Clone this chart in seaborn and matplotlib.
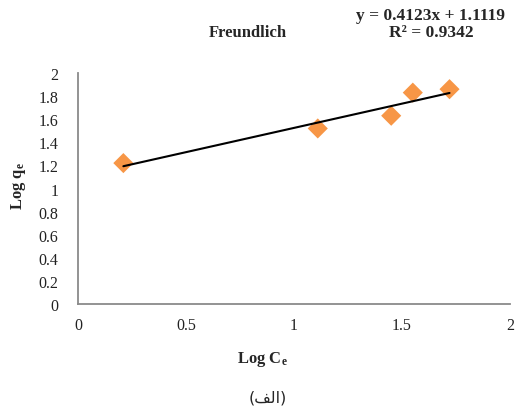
import matplotlib
matplotlib.use('Agg')
import matplotlib.pyplot as plt
import seaborn as sns
import pandas as pd

# Freundlich isotherm data
log_ce = [0.21, 1.11, 1.45, 1.55, 1.72]
log_qe = [1.22, 1.52, 1.63, 1.83, 1.86]
x_ticks = [0, 0.5, 1, 1.5, 2]
y_ticks = [0, 0.2, 0.4, 0.6, 0.8, 1, 1.2, 1.4, 1.6, 1.8, 2]
x_tick_labels = ['0', '0.5', '1', '1.5', '2']
y_tick_labels = ['0', '0.2', '0.4', '0.6', '0.8', '1', '1.2', '1.4', '1.6', '1.8', '2']

df = pd.DataFrame({'log_ce': log_ce, 'log_qe': log_qe})

sns.set_style('white')
plt.rcParams['font.family'] = ['Liberation Serif', 'DejaVu Sans']
plt.rcParams['mathtext.fontset'] = 'custom'
plt.rcParams['mathtext.rm'] = 'Liberation Serif'
plt.rcParams['mathtext.bf'] = 'Liberation Serif:bold'
plt.rcParams['mathtext.it'] = 'Liberation Serif:italic'

fig = plt.figure(figsize=(5.15, 4.14), dpi=100)
ax = fig.add_axes([78 / 515, 1 - 305 / 414, 432 / 515, 231 / 414])

# trendline (linear fit) then markers on top
sns.regplot(x='log_ce', y='log_qe', data=df, ax=ax, scatter=False, ci=None,
            line_kws={'color': 'black', 'linewidth': 1.5})
sns.scatterplot(x='log_ce', y='log_qe', data=df, ax=ax, marker='D', s=105,
                color='#F79646', edgecolor='none', zorder=1)

ax.set_xlim(0, 2)
ax.set_ylim(0, 2)
ax.set_xticks(x_ticks)
ax.set_xticklabels(x_tick_labels)
ax.set_yticks(y_ticks)
ax.set_yticklabels(y_tick_labels)
ax.tick_params(length=0, labelsize=11.5, colors='#222222')
ax.tick_params(axis='x', pad=9)
ax.tick_params(axis='y', pad=14)

for side in ['top', 'right']:
    ax.spines[side].set_visible(False)
for side in ['left', 'bottom']:
    ax.spines[side].set_color('#8a8a8a')
    ax.spines[side].set_linewidth(1.3)

ax.set_xlabel('')
ax.set_ylabel('')

fig.text(262 / 515, 1 - 360 / 414, r'Log C$_{\mathbf{e}}$', fontsize=12, fontweight='bold',
         ha='center', va='center')
fig.text(18 / 515, 1 - 186 / 414, r'Log q$_{\mathbf{e}}$', fontsize=12, fontweight='bold',
         ha='center', va='center', rotation=90)
fig.text(248 / 515, 1 - 33 / 414, 'Freundlich', fontsize=12, fontweight='bold',
         ha='center', va='center')
fig.text(431 / 515, 1 - 16 / 414, 'y = 0.4123x + 1.1119', fontsize=12.5, fontweight='bold',
         ha='center', va='center')
fig.text(431 / 515, 1 - 33 / 414, 'R² = 0.9342', fontsize=12.5, fontweight='bold',
         ha='center', va='center')
# "(الف)" written in shaped presentation forms, visual order (matplotlib has no bidi)
fig.text(268 / 515, 1 - 398 / 414, '(\ufed2\ufedf\ufe8d)', fontsize=11.5,
         family=['DejaVu Sans'], ha='center', va='center')

fig.savefig('out.png', dpi=100)
